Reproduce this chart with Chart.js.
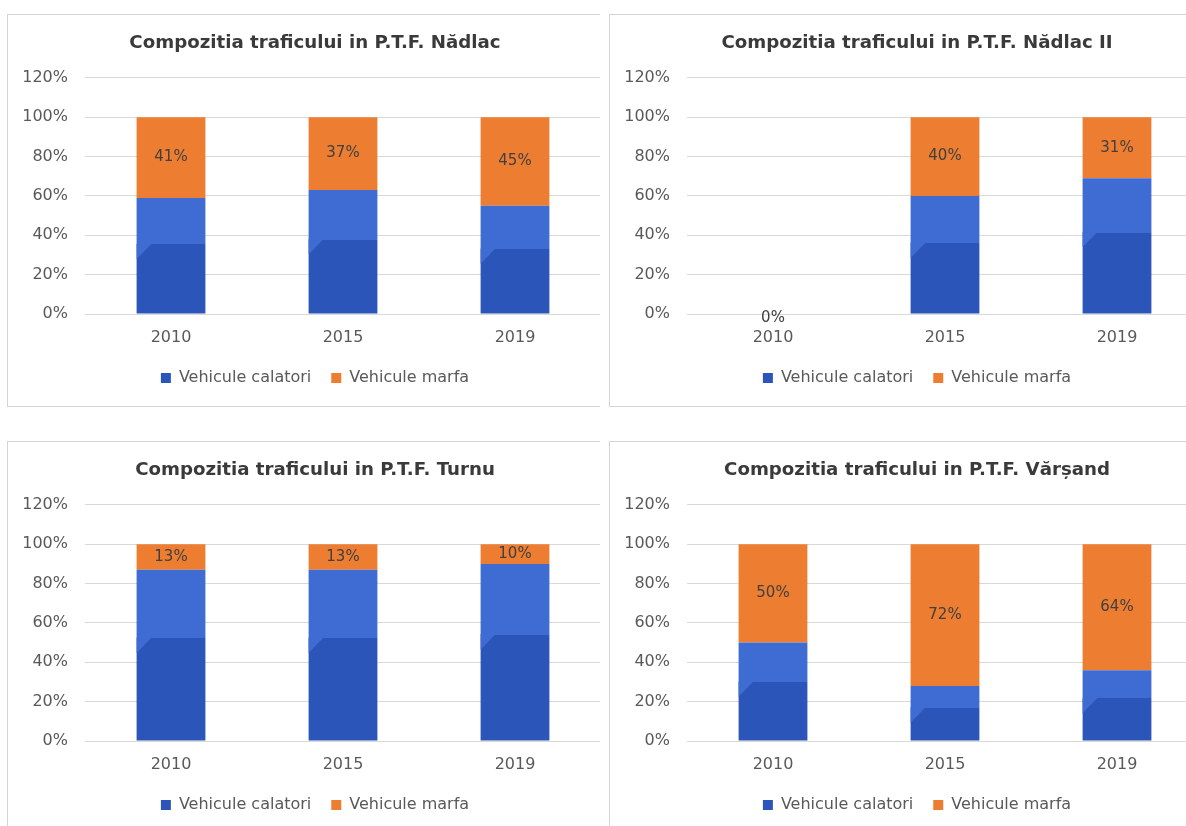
<!DOCTYPE html>
<html lang="ro">
<head>
<meta charset="utf-8">
<title>Compozitia traficului</title>
<script src="https://cdn.jsdelivr.net/npm/chart.js@4/dist/chart.umd.min.js"></script>
<style>
  html, body { margin: 0; padding: 0; background: #fff; }
  body { width: 1186px; height: 826px; overflow: hidden; position: relative; }
  .panel { position: absolute; background: #fff; border: 1px solid #d4d4d4; overflow: hidden; height: 391px; }
  .panel.left { width: 592px; border-right: none; }
  .panel.right { width: 614px; }
  .box { position: relative; width: 614px; height: 391px; }
</style>
</head>
<body>
<div class="panel left" style="left:7px; top:14px;"><div class="box"><canvas id="nadlac"></canvas></div></div>
<div class="panel right" style="left:609px; top:14px;"><div class="box"><canvas id="nadlac2"></canvas></div></div>
<div class="panel left" style="left:7px; top:441px;"><div class="box"><canvas id="turnu"></canvas></div></div>
<div class="panel right" style="left:609px; top:441px;"><div class="box"><canvas id="varsand"></canvas></div></div>

<script>
// years on the x axis
const years = ['2010', '2015', '2019'];

// share of traffic per crossing point, in %
const nadlacCalatori = [59, 63, 55];
const nadlacMarfa = [41, 37, 45];

const nadlac2Calatori = [0, 60, 69];
const nadlac2Marfa = [0, 40, 31];

const turnuCalatori = [87, 87, 90];
const turnuMarfa = [13, 13, 10];

const varsandCalatori = [50, 28, 36];
const varsandMarfa = [50, 72, 64];

// y axis: 0% .. 120% in steps of 20
const yMax = 120;
const yStep = 20;

const BLUE_DARK = '#2b55b9';
const BLUE_LIGHT = '#3e6cd3';
const ORANGE = '#ed7d31';
const TEXT = '#595959';
const DARK_SHARE = 0.6; // lower part of a passenger bar drawn darker

Chart.defaults.font.family = '"DejaVu Sans", Verdana, sans-serif';
Chart.defaults.color = TEXT;

// two-tone fill for the passenger bars
const calatoriFill = (ctx) => {
  if (ctx.type !== 'data') return BLUE_DARK;
  const chart = ctx.chart;
  const y = chart.scales.y;
  if (!y) return BLUE_DARK;
  const top = y.getPixelForValue(ctx.raw);
  const base = y.getPixelForValue(0);
  if (!isFinite(top) || Math.abs(base - top) < 1) return BLUE_DARK;
  const g = chart.ctx.createLinearGradient(0, base, 0, top);
  g.addColorStop(0, BLUE_DARK);
  g.addColorStop(DARK_SHARE, BLUE_DARK);
  g.addColorStop(DARK_SHARE, BLUE_LIGHT);
  g.addColorStop(1, BLUE_LIGHT);
  return g;
};

// bevelled corner on the dark part + value labels on the freight segments
const segmentLabels = {
  id: 'segmentLabels',
  afterDatasetsDraw(chart) {
    const ctx = chart.ctx;
    ctx.save();

    chart.getDatasetMeta(0).data.forEach((bar) => {
      const h = bar.base - bar.y;
      if (h < 20) return;
      const left = bar.x - bar.width / 2;
      const darkTop = bar.base - h * DARK_SHARE;
      const b = Math.min(15, h * (1 - DARK_SHARE));
      ctx.fillStyle = BLUE_LIGHT;
      ctx.beginPath();
      ctx.moveTo(left, darkTop - 0.5);
      ctx.lineTo(left + b, darkTop - 0.5);
      ctx.lineTo(left, darkTop + b);
      ctx.closePath();
      ctx.fill();
    });

    const meta = chart.getDatasetMeta(1);
    const values = chart.data.datasets[1].data;
    ctx.font = '15px "DejaVu Sans"';
    ctx.fillStyle = '#404040';
    ctx.textAlign = 'center';
    ctx.textBaseline = 'middle';
    meta.data.forEach((bar, i) => {
      const mid = (bar.y + bar.base) / 2;
      // an empty segment gets its label just under the baseline
      const yPos = Math.abs(bar.base - bar.y) < 1 ? mid + 4 : mid;
      ctx.fillText(values[i] + '%', bar.x, yPos);
    });
    ctx.restore();
  }
};

function makeChart(id, title, calatori, marfa) {
  return new Chart(document.getElementById(id), {
    type: 'bar',
    data: {
      labels: years,
      datasets: [
        { label: 'Vehicule calatori', data: calatori, backgroundColor: calatoriFill },
        { label: 'Vehicule marfa', data: marfa, backgroundColor: ORANGE }
      ]
    },
    options: {
      responsive: true,
      maintainAspectRatio: false,
      animation: false,
      events: [],
      datasets: {
        bar: { categoryPercentage: 1, barPercentage: 0.4 }
      },
      layout: { padding: { top: 0, right: 0, bottom: 10, left: 0 } },
      scales: {
        x: {
          stacked: true,
          grid: { display: false, drawTicks: false },
          border: { display: false },
          ticks: { padding: 14, font: { size: 16 }, color: TEXT },
          afterFit: (s) => { s.height = 36; }
        },
        y: {
          stacked: true,
          min: 0,
          max: yMax,
          grid: { color: '#d9d9d9', drawTicks: false },
          border: { display: false },
          ticks: {
            stepSize: yStep,
            padding: 17,
            font: { size: 16 },
            color: TEXT,
            callback: (v) => v + '%'
          },
          afterFit: (s) => { s.width = 77; }
        },
        // empty strip on the right, keeps the plot narrower than the title/legend band
        spacer: {
          type: 'linear',
          position: 'right',
          display: true,
          grid: { display: false, drawTicks: false },
          border: { display: false },
          ticks: { display: false },
          afterFit: (s) => { s.width = 21; }
        }
      },
      plugins: {
        title: {
          display: true,
          text: title,
          color: '#3a3a3a',
          font: { size: 18.2, weight: 'bold' },
          padding: { top: 17, bottom: 24 }
        },
        legend: {
          position: 'bottom',
          labels: {
            boxWidth: 10,
            boxHeight: 10,
            padding: 20,
            color: TEXT,
            font: { size: 16 }
          }
        },
        tooltip: { enabled: false }
      }
    },
    plugins: [segmentLabels]
  });
}

makeChart('nadlac', 'Compozitia traficului in P.T.F. Nădlac', nadlacCalatori, nadlacMarfa);
makeChart('nadlac2', 'Compozitia traficului in P.T.F. Nădlac II', nadlac2Calatori, nadlac2Marfa);
makeChart('turnu', 'Compozitia traficului in P.T.F. Turnu', turnuCalatori, turnuMarfa);
makeChart('varsand', 'Compozitia traficului in P.T.F. Vărșand', varsandCalatori, varsandMarfa);
</script>
</body>
</html>
